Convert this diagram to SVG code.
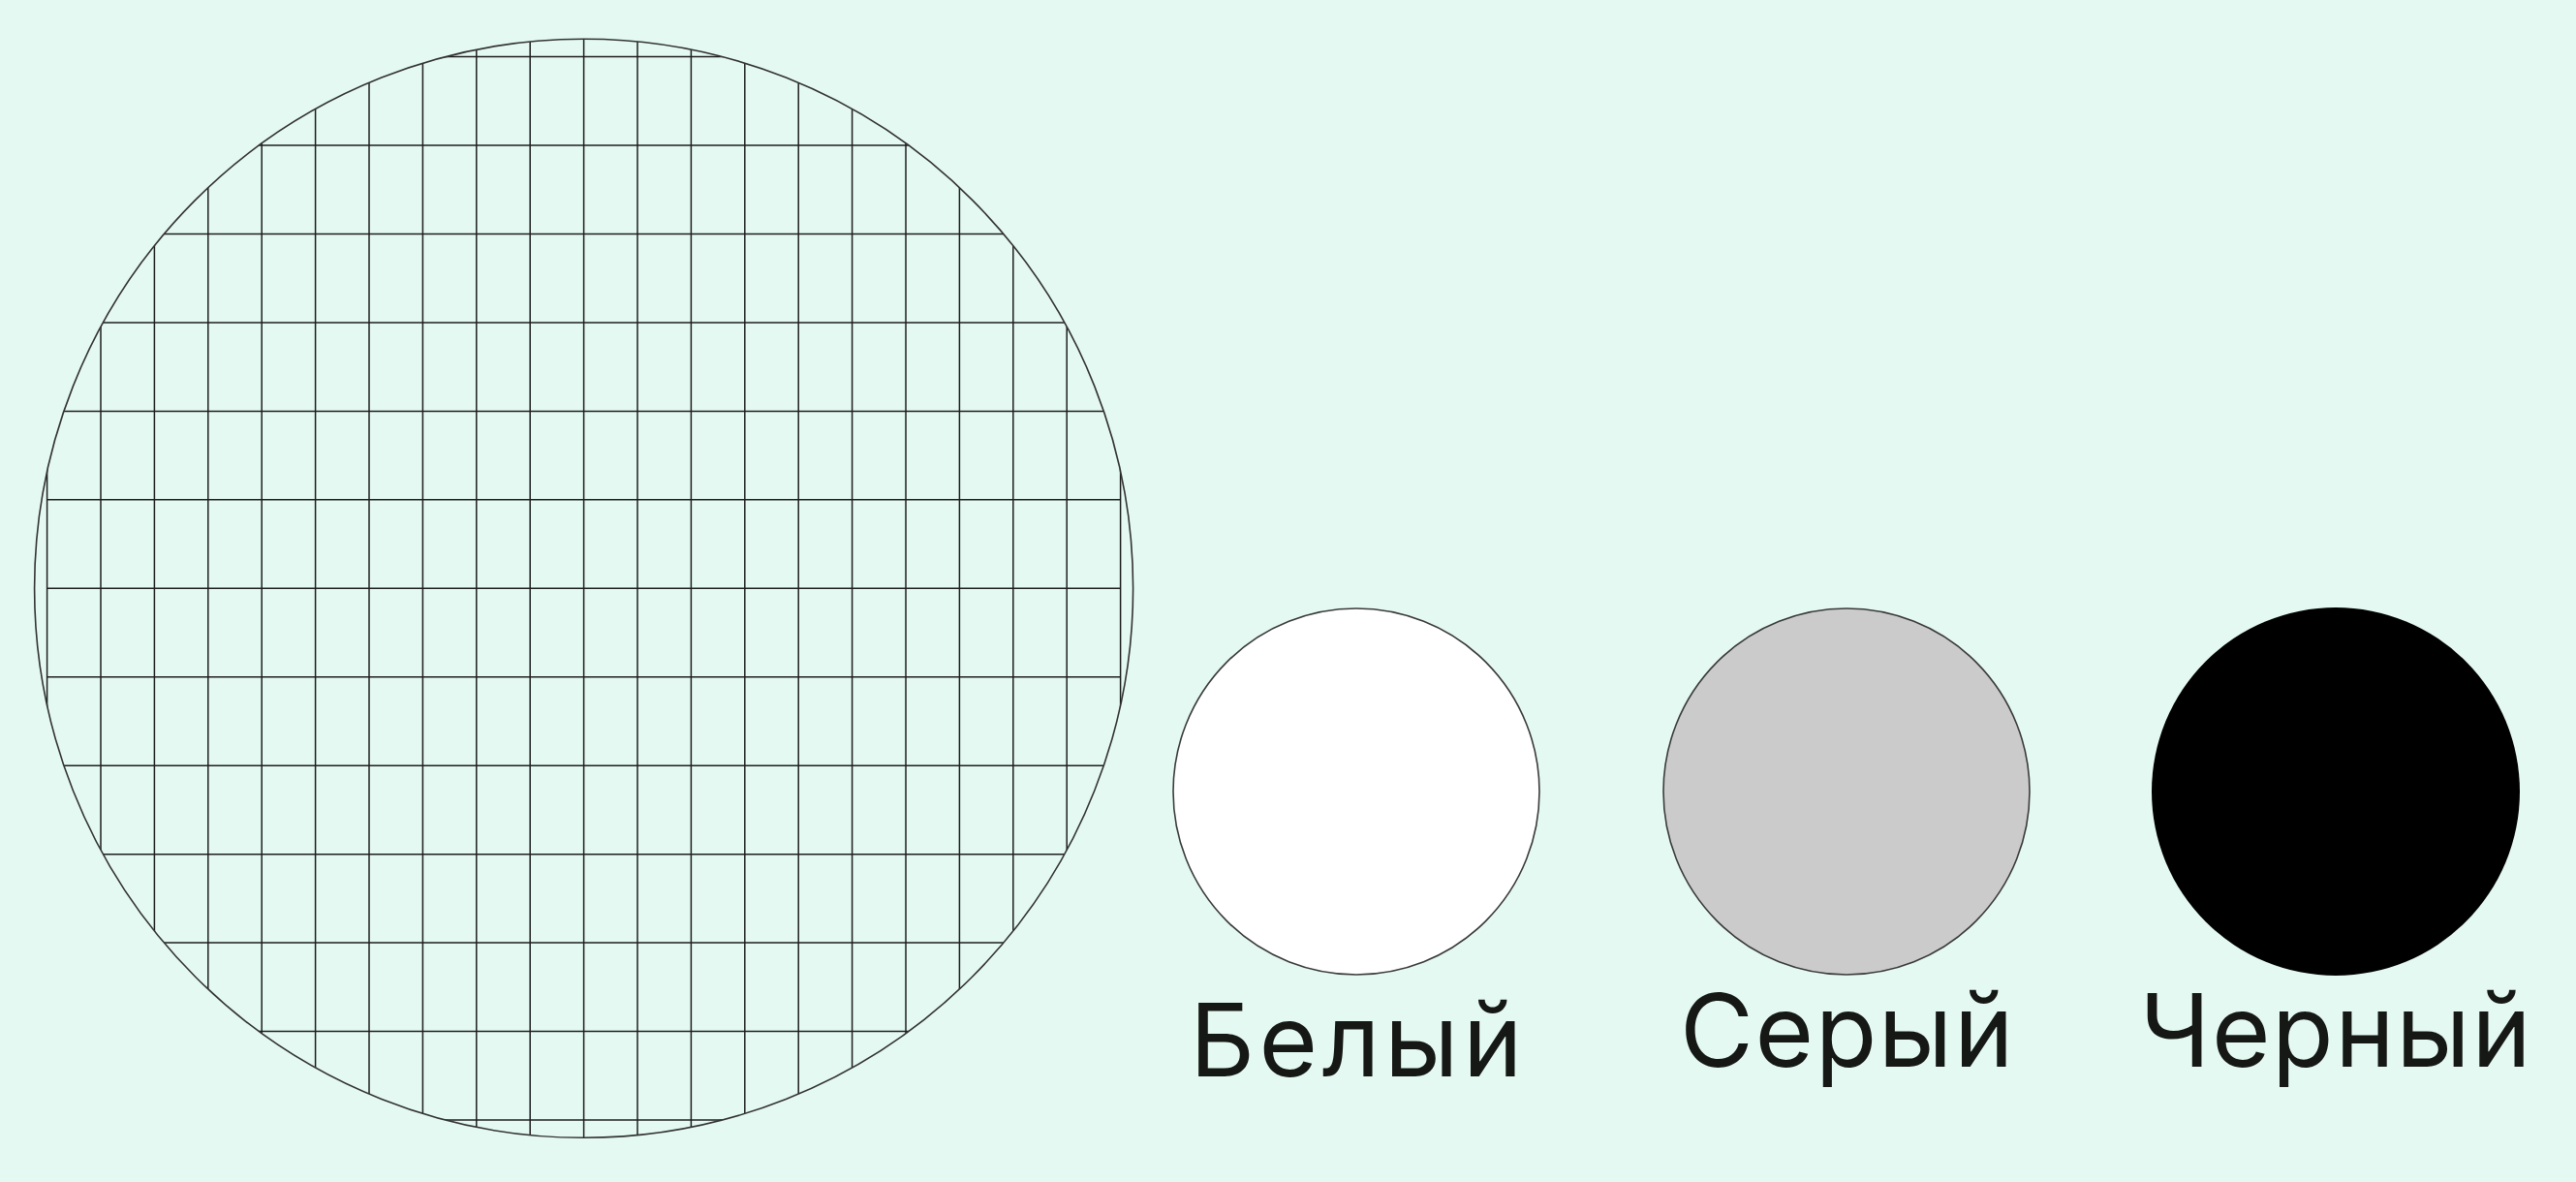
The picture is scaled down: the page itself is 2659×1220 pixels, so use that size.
<svg xmlns="http://www.w3.org/2000/svg" width="2659" height="1220" viewBox="0 0 2659 1220">
<style>
.grid line{stroke:#1e1e1e;stroke-width:1.5}
.outline{fill:none;stroke:#333;stroke-width:1.6}
.dot{stroke:#3a3a3a;stroke-width:1.6}
.lbl{font-family:Inter,"Noto Sans","Liberation Sans",sans-serif;font-size:104px;letter-spacing:1.5px;fill:#161816;text-anchor:middle}
.wide{letter-spacing:4.5px}
</style>
<defs>
<clipPath id="bigclip"><circle cx="602.6" cy="607.3" r="567"/></clipPath>
</defs>
<rect width="2659" height="1220" fill="#E4F9F2"/>
<g id="grid-circle">
<g class="grid" clip-path="url(#bigclip)">
<line x1="48.6" y1="0" x2="48.6" y2="1220"/>
<line x1="104" y1="0" x2="104" y2="1220"/>
<line x1="159.4" y1="0" x2="159.4" y2="1220"/>
<line x1="214.8" y1="0" x2="214.8" y2="1220"/>
<line x1="270.2" y1="0" x2="270.2" y2="1220"/>
<line x1="325.6" y1="0" x2="325.6" y2="1220"/>
<line x1="381" y1="0" x2="381" y2="1220"/>
<line x1="436.4" y1="0" x2="436.4" y2="1220"/>
<line x1="491.8" y1="0" x2="491.8" y2="1220"/>
<line x1="547.2" y1="0" x2="547.2" y2="1220"/>
<line x1="602.6" y1="0" x2="602.6" y2="1220"/>
<line x1="658" y1="0" x2="658" y2="1220"/>
<line x1="713.4" y1="0" x2="713.4" y2="1220"/>
<line x1="768.8" y1="0" x2="768.8" y2="1220"/>
<line x1="824.2" y1="0" x2="824.2" y2="1220"/>
<line x1="879.6" y1="0" x2="879.6" y2="1220"/>
<line x1="935" y1="0" x2="935" y2="1220"/>
<line x1="990.4" y1="0" x2="990.4" y2="1220"/>
<line x1="1045.8" y1="0" x2="1045.8" y2="1220"/>
<line x1="1101.2" y1="0" x2="1101.2" y2="1220"/>
<line x1="1156.6" y1="0" x2="1156.6" y2="1220"/>
<line x1="48.6" y1="58.6" x2="1156.6" y2="58.6"/>
<line x1="48.6" y1="150.05" x2="1156.6" y2="150.05"/>
<line x1="48.6" y1="241.5" x2="1156.6" y2="241.5"/>
<line x1="48.6" y1="332.95" x2="1156.6" y2="332.95"/>
<line x1="48.6" y1="424.4" x2="1156.6" y2="424.4"/>
<line x1="48.6" y1="515.85" x2="1156.6" y2="515.85"/>
<line x1="48.6" y1="607.3" x2="1156.6" y2="607.3"/>
<line x1="48.6" y1="698.75" x2="1156.6" y2="698.75"/>
<line x1="48.6" y1="790.2" x2="1156.6" y2="790.2"/>
<line x1="48.6" y1="881.65" x2="1156.6" y2="881.65"/>
<line x1="48.6" y1="973.1" x2="1156.6" y2="973.1"/>
<line x1="48.6" y1="1064.55" x2="1156.6" y2="1064.55"/>
<line x1="48.6" y1="1156" x2="1156.6" y2="1156"/>
</g>
<circle class="outline" cx="602.6" cy="607.3" r="567"/>
</g>
<g id="white">
<circle class="dot" cx="1400" cy="817" r="189" fill="#FFFFFF"/>
<text class="lbl wide" x="1402" y="1111">Белый</text>
</g>
<g id="gray">
<circle class="dot" cx="1906" cy="817" r="189" fill="#CBCBCB"/>
<text class="lbl" x="1907" y="1101">Серый</text>
</g>
<g id="black">
<circle cx="2411" cy="817" r="190" fill="#000000"/>
<text class="lbl" x="2411.5" y="1101">Черный</text>
</g>
<g id="connectors"/>
</svg>
